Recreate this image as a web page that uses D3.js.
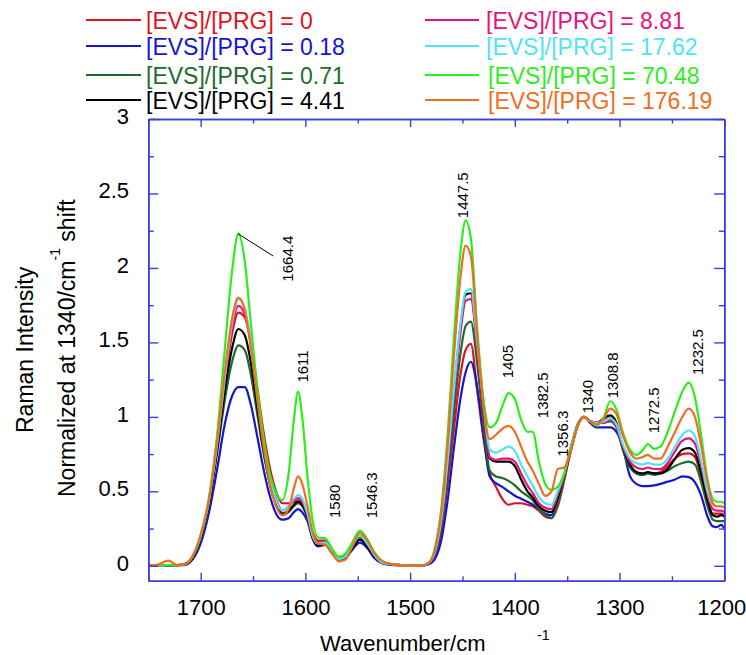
<!DOCTYPE html>
<html>
<head>
<meta charset="utf-8">
<script src="https://cdn.jsdelivr.net/npm/d3@7"></script>
<style>
  body { margin: 0; background: #fff; }
  svg text { font-family: "Liberation Sans", Arial, Helvetica, sans-serif; }
</style>
</head>
<body>
<script>
// wavenumber grid (cm-1)
const wavenumbers = [1750, 1740, 1731, 1722, 1716,
  1708, 1700, 1692, 1684, 1677, 1670, 1664, 1658, 1652, 1646, 1640, 1634, 1628, 1622,
  1616, 1611, 1607, 1603, 1598, 1593, 1588, 1581, 1575, 1568, 1562, 1555, 1548, 1541, 1534, 1526, 1516, 1500, 1490,
  1482, 1476, 1470, 1464, 1458, 1452, 1447, 1442, 1436, 1430, 1424,
  1418, 1412, 1406, 1400, 1394, 1388, 1383, 1377, 1371, 1365, 1359, 1353, 1347, 1340,
  1334, 1328, 1322, 1315, 1309, 1303, 1297, 1290, 1284, 1278, 1273, 1267, 1261, 1254, 1247, 1240, 1234, 1228, 1222, 1216, 1211, 1207, 1203, 1200];

const evs0 = [0, 0, .005, .005, .01,
  .05, .19, .43, .82, 1.22, 1.56, 1.70, 1.67, 1.5, 1.2, .9, .66, .5, .42,
  .42, .43, .44, .42, .34, .22, .17, .17, .11, .06, .07, .14, .19, .14, .07, .02, .01, 0, 0,
  .02, .08, .24, .56, .93, 1.28, 1.45, 1.49, 1.18, .86, .62,
  .53, .45, .41, .42, .42, .41, .4, .37, .33, .32, .4, .57, .76, .94,
  1.0, .97, .96, .97, .99, .95, .79, .67, .62, .61, .62, .62, .63, .67, .72, .75, .755, .73, .6, .43, .35, .35, .35, .34];

const evs018 = [0, 0, 0, .005, .005,
  .04, .15, .36, .66, .95, 1.14, 1.2, 1.2, 1.08, .87, .65, .47, .35, .31,
  .32, .36, .38, .36, .3, .18, .13, .14, .09, .04, .05, .11, .155, .12, .05, .015, .005, 0, 0,
  .01, .05, .18, .45, .8, 1.12, 1.3, 1.37, 1.2, .88, .6,
  .555, .53, .5, .47, .45, .43, .41, .38, .35, .34, .44, .6, .78, .95,
  1.0, .96, .93, .93, .93, .9, .8, .6, .55, .535, .535, .54, .55, .565, .58, .6, .595, .56, .47, .33, .265, .26, .275, .25];

const evs071 = [0, 0, .005, .005, .01,
  .05, .18, .41, .77, 1.11, 1.37, 1.48, 1.45, 1.28, 1.02, .76, .55, .41, .34,
  .36, .4, .42, .4, .32, .19, .145, .15, .1, .05, .06, .13, .19, .14, .07, .02, .01, 0, 0,
  .02, .09, .27, .62, 1.04, 1.42, 1.61, 1.64, 1.36, .95, .64,
  .6, .59, .57, .54, .5, .47, .44, .38, .34, .32, .42, .58, .76, .94,
  1.0, .97, .96, .96, .97, .93, .78, .66, .62, .61, .62, .61, .62, .64, .67, .69, .70, .68, .56, .4, .31, .3, .3, .3];

const evs441 = [0, 0, .005, .005, .01,
  .05, .19, .42, .8, 1.17, 1.46, 1.59, 1.55, 1.36, 1.07, .78, .56, .42, .35,
  .37, .41, .43, .41, .33, .19, .14, .145, .09, .04, .05, .12, .175, .13, .06, .02, .01, 0, 0,
  .02, .1, .3, .7, 1.17, 1.6, 1.82, 1.83, 1.48, 1.06, .72,
  .7, .7, .7, .67, .58, .5, .46, .4, .37, .36, .46, .6, .77, .94,
  1.0, .97, .96, .99, 1.01, .96, .8, .68, .63, .62, .63, .62, .62, .65, .72, .78, .79, .76, .62, .44, .34, .33, .34, .33];

const evs881 = [0, 0, .005, .005, .01,
  .06, .2, .44, .83, 1.25, 1.6, 1.745, 1.69, 1.48, 1.15, .84, .6, .45, .37,
  .4, .44, .455, .43, .34, .2, .16, .165, .1, .05, .06, .14, .2, .15, .07, .02, .01, 0, 0,
  .02, .1, .3, .69, 1.15, 1.56, 1.78, 1.79, 1.46, 1.05, .73,
  .71, .72, .72, .7, .62, .54, .49, .42, .39, .38, .48, .6, .77, .94,
  1.0, .97, .96, .96, .98, .94, .8, .7, .66, .65, .66, .65, .65, .69, .77, .84, .855, .82, .67, .48, .38, .37, .37, .36];

const evs1762 = [0, 0, .005, .005, .01,
  .06, .2, .44, .84, 1.26, 1.63, 1.79, 1.73, 1.5, 1.16, .84, .6, .44, .37,
  .4, .45, .475, .45, .35, .2, .15, .155, .1, .045, .06, .14, .2, .15, .07, .02, .01, 0, 0,
  .02, .1, .32, .72, 1.2, 1.62, 1.84, 1.86, 1.5, 1.1, .78,
  .76, .78, .8, .77, .68, .6, .54, .46, .42, .41, .5, .62, .78, .94,
  1.0, .97, .96, .97, .99, .95, .82, .72, .69, .68, .69, .68, .68, .72, .8, .88, .91, .87, .7, .5, .41, .4, .4, .39];

const evs7048 = [0, 0, .005, .005, .01,
  .06, .2, .46, .9, 1.45, 1.98, 2.23, 2.05, 1.62, 1.2, .86, .62, .49, .44,
  .62, .98, 1.17, 1.0, .6, .3, .19, .185, .12, .06, .08, .16, .236, .18, .09, .03, .01, 0, 0,
  .02, .13, .4, .9, 1.55, 2.1, 2.32, 2.2, 1.6, 1.12, .93,
  .96, 1.07, 1.16, 1.12, .98, .9, .9, .7, .55, .51, .53, .62, .78, .94,
  1.0, .97, .94, 1.0, 1.105, 1.05, .9, .78, .745, .775, .818, .785, .8, .9, 1.04, 1.17, 1.23, 1.13, .87, .58, .45, .43, .43, .42];

const evs17619 = [0, .01, .035, .005, .01,
  .06, .21, .45, .86, 1.3, 1.66, 1.80, 1.72, 1.46, 1.12, .8, .55, .4, .34,
  .38, .52, .6, .55, .4, .22, .15, .14, .09, .03, .04, .13, .22, .17, .08, .03, .01, 0, 0,
  .02, .12, .37, .83, 1.42, 1.93, 2.15, 2.08, 1.55, 1.08, .85,
  .88, .92, .94, .9, .8, .7, .64, .55, .47, .5, .65, .66, .76, .94,
  1.0, .97, .95, .99, 1.055, 1.02, .88, .76, .72, .73, .745, .72, .72, .8, .9, 1.0, 1.055, 1.0, .8, .56, .42, .4, .4, .39];

const seriesNames = ["[EVS]/[PRG] = 0", "[EVS]/[PRG] = 0.18", "[EVS]/[PRG] = 0.71", "[EVS]/[PRG] = 4.41",
  "[EVS]/[PRG] = 8.81", "[EVS]/[PRG] = 17.62", "[EVS]/[PRG] = 70.48", "[EVS]/[PRG] = 176.19"];
const seriesValues = [evs0, evs018, evs071, evs441, evs881, evs1762, evs7048, evs17619];
const seriesColors = ["#e3101c", "#1414d2", "#1d6b2a", "#000000", "#e8137a", "#4fe3f6", "#2cee1c", "#f26c22"];

const xTicks = [1700, 1600, 1500, 1400, 1300, 1200];
const xMinorTicks = [1750, 1650, 1550, 1450, 1350, 1250];
const yTicks = [0, 0.5, 1, 1.5, 2, 2.5, 3];
const yMinorTicks = [0.25, 0.75, 1.25, 1.75, 2.25, 2.75];

// band labels (text, wavenumber and intensity where the label starts)
const peakLabels = ["1664.4", "1611", "1580", "1546.3", "1447.5", "1405", "1382.5", "1356.3", "1340", "1308.8", "1272.5", "1232.5"];
const peakLabelX = [1611.6, 1597.3, 1567, 1531.9, 1444.5, 1401.6, 1368.1, 1349, 1325.2, 1301.3, 1262.2, 1220.2];
const peakLabelY = [1.908, 1.23, 0.321, 0.319, 2.334, 1.259, 0.991, 0.733, 1.024, 1.125, 0.89, 1.281];

const w = 746;
const h = 655;
const axisColor = "#3c3cdc";

const xScale = d3.scaleLinear().domain([1750, 1200]).range([148.3, 724.3]);
const yScale = d3.scaleLinear().domain([-0.1, 3]).range([580.7, 119]);

const svg = d3.select("body").append("svg")
  .attr("width", w)
  .attr("height", h);

// spectra
const line = d3.line()
  .x((d) => xScale(d[0]))
  .y((d) => yScale(d[1]))
  .curve(d3.curveMonotoneX);

seriesValues.forEach((vals, i) => {
  svg.append("path")
    .datum(wavenumbers.map((wn, j) => [wn, vals[j]]))
    .attr("fill", "none")
    .attr("stroke", seriesColors[i])
    .attr("stroke-width", 2.2)
    .attr("stroke-linejoin", "round")
    .attr("d", line);
});

// axes: ticks point inward on all four sides
function styleAxis(g) {
  g.selectAll("path.domain").attr("stroke", axisColor).attr("stroke-width", 1.6);
  g.selectAll(".tick line").attr("stroke", axisColor).attr("stroke-width", 1.4);
}

const bottom = svg.append("g")
  .attr("transform", "translate(0," + yScale(-0.1) + ")")
  .call(d3.axisBottom(xScale).tickValues(xTicks).tickSize(-8).tickSizeOuter(0).tickFormat(d3.format("d")));
bottom.selectAll("text")
  .attr("y", 34.3)
  .attr("dy", 0)
  .attr("dx", (d) => d === 1200 ? -3 : 0)
  .attr("font-size", "22px")
  .attr("fill", "#000");
styleAxis(bottom);

svg.append("g")
  .attr("transform", "translate(0," + yScale(-0.1) + ")")
  .call(d3.axisBottom(xScale).tickValues(xMinorTicks).tickSize(-4.5).tickSizeOuter(0).tickFormat(""))
  .call(styleAxis);

svg.append("g")
  .attr("transform", "translate(0," + yScale(3) + ")")
  .call(d3.axisTop(xScale).tickValues(xTicks).tickSize(-8).tickSizeOuter(0).tickFormat(""))
  .call(styleAxis);
svg.append("g")
  .attr("transform", "translate(0," + yScale(3) + ")")
  .call(d3.axisTop(xScale).tickValues(xMinorTicks).tickSize(-4.5).tickSizeOuter(0).tickFormat(""))
  .call(styleAxis);

const left = svg.append("g")
  .attr("transform", "translate(" + xScale(1750) + ",0)")
  .call(d3.axisLeft(yScale).tickValues(yTicks).tickSize(-10).tickSizeOuter(0).tickFormat(d3.format("")));
left.selectAll("text").attr("x", -19.3).attr("dy", 4.5).attr("font-size", "22px").attr("fill", "#000");
styleAxis(left);
svg.append("g")
  .attr("transform", "translate(" + xScale(1750) + ",0)")
  .call(d3.axisLeft(yScale).tickValues(yMinorTicks).tickSize(-5.5).tickSizeOuter(0).tickFormat(""))
  .call(styleAxis);

svg.append("g")
  .attr("transform", "translate(" + xScale(1200) + ",0)")
  .call(d3.axisRight(yScale).tickValues(yTicks).tickSize(-10).tickSizeOuter(0).tickFormat(""))
  .call(styleAxis);
svg.append("g")
  .attr("transform", "translate(" + xScale(1200) + ",0)")
  .call(d3.axisRight(yScale).tickValues(yMinorTicks).tickSize(-5.5).tickSizeOuter(0).tickFormat(""))
  .call(styleAxis);

// axis titles
svg.append("text")
  .attr("x", 320)
  .attr("y", 651)
  .attr("font-size", "22px")
  .text("Wavenumber/cm");
svg.append("text")
  .attr("x", 537)
  .attr("y", 640)
  .attr("font-size", "14px")
  .text("-1");

svg.append("text")
  .attr("transform", "translate(33,433) rotate(-90)")
  .attr("font-size", "23px")
  .text("Raman Intensity");

const yTitle = svg.append("text")
  .attr("transform", "translate(75,497) rotate(-90)")
  .attr("font-size", "23px");
yTitle.append("tspan").text("Normalized at 1340/cm");
yTitle.append("tspan").attr("font-size", "14px").attr("dy", -15).text("-1");
yTitle.append("tspan").attr("dy", 15).text(" shift");

// band labels
svg.selectAll("text.peak")
  .data(peakLabels)
  .enter()
  .append("text")
  .attr("class", "peak")
  .attr("transform", (d, i) => `translate(${xScale(peakLabelX[i])},${yScale(peakLabelY[i])}) rotate(-90)`)
  .attr("font-size", "15px")
  .text((d) => d);

svg.append("line")
  .attr("x1", xScale(1664.4))
  .attr("y1", yScale(2.23))
  .attr("x2", xScale(1630.7))
  .attr("y2", yScale(2.08))
  .attr("stroke", "#000")
  .attr("stroke-width", 1);

// legend, two columns of four
const legendRowY = [20, 46, 75, 100];
const legendLineX = [[86, 141], [425, 479]];
const legendTextX = [146, 486];

seriesNames.forEach((name, i) => {
  const col = Math.floor(i / 4);
  const row = i % 4;
  const ly = legendRowY[row];
  svg.append("line")
    .attr("x1", legendLineX[col][0])
    .attr("x2", legendLineX[col][1])
    .attr("y1", ly)
    .attr("y2", ly)
    .attr("stroke", seriesColors[i])
    .attr("stroke-width", 2);
  svg.append("text")
    .attr("x", legendTextX[col] + (i >= 6 ? 2 : 0))
    .attr("y", ly + 9)
    .attr("font-size", "23px")
    .attr("fill", seriesColors[i])
    .text(name);
});
</script>
</body>
</html>
